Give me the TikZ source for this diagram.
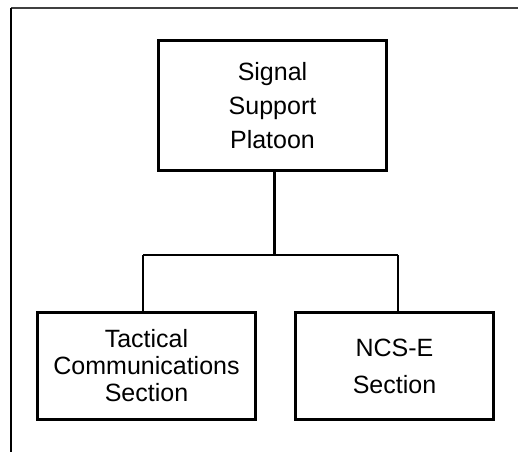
\documentclass[tikz,border=0pt]{standalone}
\usepackage{fontspec}
\setmainfont{Liberation Sans}
\begin{document}
\begin{tikzpicture}[x=1pt,y=-1pt,
  orgbox/.style={draw,line width=3pt,inner sep=0pt,align=center,font=\fontsize{25}{27}\selectfont},
  thin/.style={line width=1.5pt},
  thick/.style={line width=3pt}]
\useasboundingbox (0,0) rectangle (518,452);
% frame
\draw[line width=1.5pt,black!75] (11,8) -- (518,8);
\draw[line width=1.5pt] (11,8) -- (11,452);
% boxes
\node[orgbox,minimum width=228pt,minimum height=130pt,font=\fontsize{25}{34}\selectfont] (top) at (272.5,105.5) {Signal\\Support\\Platoon};
\node[orgbox,minimum width=218pt,minimum height=107pt,font=\fontsize{25}{27}\selectfont] (tcs) at (146.5,366) {Tactical\\Communications\\Section};
\node[orgbox,minimum width=198pt,minimum height=107pt,font=\fontsize{25}{37}\selectfont] (ncs) at (394.5,366) {NCS-E\\Section};
% connectors
\coordinate (j) at (274,255);
\coordinate (jl) at (143,255);
\coordinate (jr) at (398,255);
\draw[thick] (top.south -| j) -- (j);
\draw[thin] (jl) -- (jr);
\draw[thin] (jl) -- (jl |- tcs.north);
\draw[thin] (jr) -- (jr |- ncs.north);
\end{tikzpicture}
\end{document}
